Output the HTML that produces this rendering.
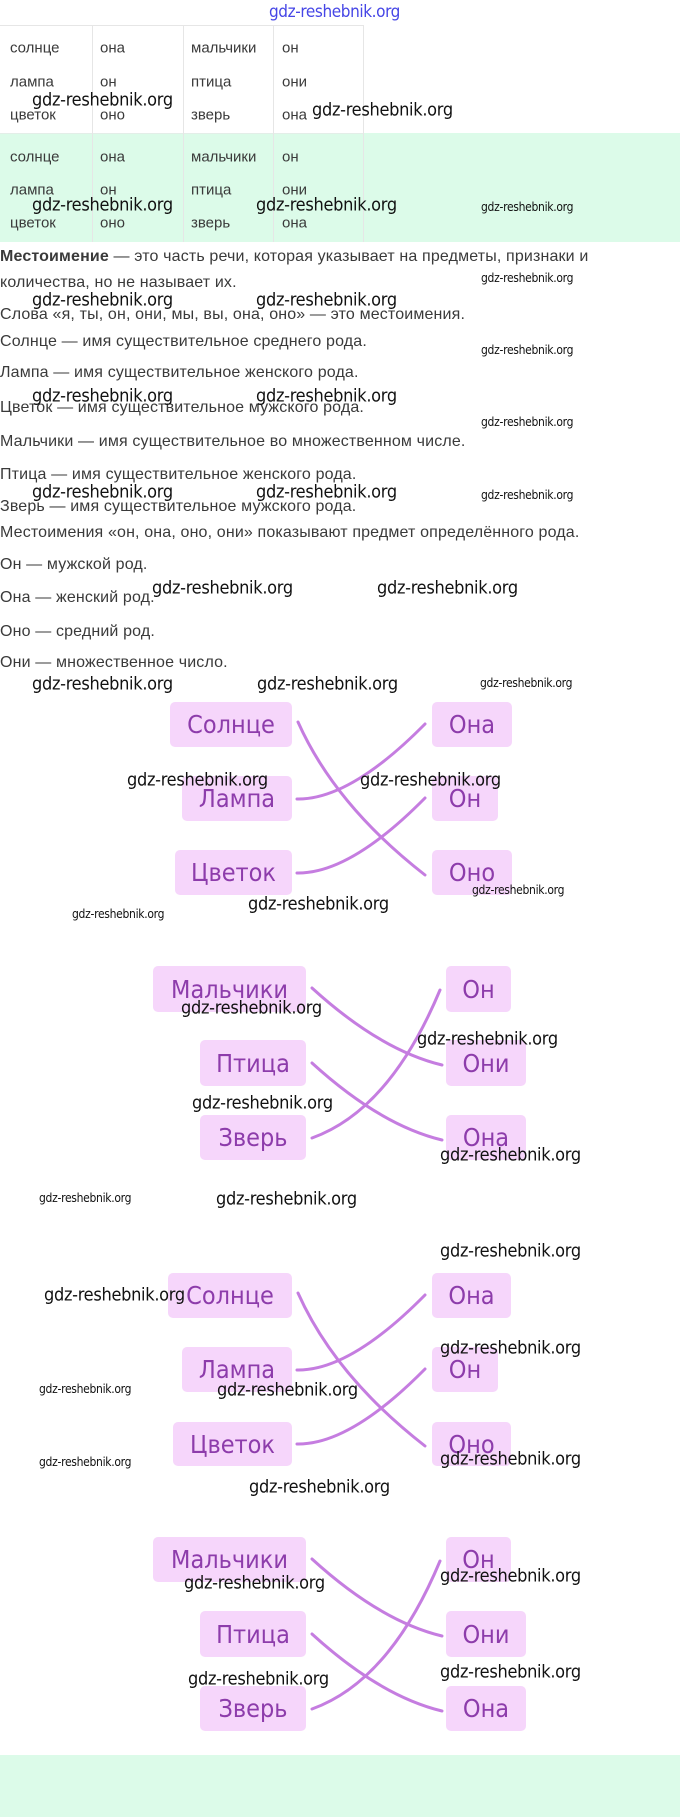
<!DOCTYPE html>
<html><head><meta charset="utf-8">
<style>
body{margin:0;width:680px;height:1817px;position:relative;background:#fff;overflow:hidden;font-family:"Liberation Sans","Noto Sans CJK SC",sans-serif;}
.a{position:absolute;white-space:nowrap;}
.t{font-size:15px;color:#3a3a3a;transform:translateY(-50%);}
.p{font-size:16px;color:#3a3a3a;left:0;transform:translateY(-50%);letter-spacing:0.15px;}
.w{font-size:18px;color:#111;transform:translateY(-50%);font-family:"DejaVu Sans Condensed","Liberation Sans",sans-serif;letter-spacing:-0.3px;}
.s{font-size:12px;color:#111;transform:translateY(-50%);font-family:"DejaVu Sans Condensed","Liberation Sans",sans-serif;letter-spacing:-0.3px;}
.b{position:absolute;background:#f6d6fb;border-radius:5px;color:#8d3cab;font-size:25px;font-family:"DejaVu Sans Condensed","Liberation Sans",sans-serif;display:flex;align-items:center;justify-content:center;}
.v{position:absolute;width:1px;background:#e6e6e6;}
</style></head><body>
<div class="a" style="left:269px;top:2px;font-size:17px;color:#4646e6;font-family:'DejaVu Sans Condensed',sans-serif;letter-spacing:-0.4px;">gdz-reshebnik.org</div>

<div style="position:absolute;left:0;top:133px;width:680px;height:109px;background:#dcfbe9;"></div>
<div style="position:absolute;left:0;top:25px;width:364px;height:1px;background:#e6e6e6;"></div>
<div style="position:absolute;left:0;top:133px;width:364px;height:1px;background:#e3eee8;"></div>
<div class="v" style="left:92px;top:25px;height:217px;"></div>
<div class="v" style="left:183px;top:25px;height:217px;"></div>
<div class="v" style="left:273px;top:25px;height:217px;"></div>
<div class="v" style="left:363px;top:25px;height:217px;"></div>

<div class="a t" style="left:10px;top:48px">солнце</div><div class="a t" style="left:100px;top:48px">она</div><div class="a t" style="left:191px;top:48px">мальчики</div><div class="a t" style="left:282px;top:48px">он</div>
<div class="a t" style="left:10px;top:82px">лампа</div><div class="a t" style="left:100px;top:82px">он</div><div class="a t" style="left:191px;top:82px">птица</div><div class="a t" style="left:282px;top:82px">они</div>
<div class="a t" style="left:10px;top:115px">цветок</div><div class="a t" style="left:100px;top:115px">оно</div><div class="a t" style="left:191px;top:115px">зверь</div><div class="a t" style="left:282px;top:115px">она</div>
<div class="a t" style="left:10px;top:157px">солнце</div><div class="a t" style="left:100px;top:157px">она</div><div class="a t" style="left:191px;top:157px">мальчики</div><div class="a t" style="left:282px;top:157px">он</div>
<div class="a t" style="left:10px;top:190px">лампа</div><div class="a t" style="left:100px;top:190px">он</div><div class="a t" style="left:191px;top:190px">птица</div><div class="a t" style="left:282px;top:190px">они</div>
<div class="a t" style="left:10px;top:223px">цветок</div><div class="a t" style="left:100px;top:223px">оно</div><div class="a t" style="left:191px;top:223px">зверь</div><div class="a t" style="left:282px;top:223px">она</div>

<div class="a p" style="top:257px"><b>Местоимение</b> — это часть речи, которая указывает на предметы, признаки и</div>
<div class="a p" style="top:283px">количества, но не называет их.</div>
<div class="a p" style="top:315px">Слова «я, ты, он, они, мы, вы, она, оно» — это местоимения.</div>
<div class="a p" style="top:342px">Солнце — имя существительное среднего рода.</div>
<div class="a p" style="top:373px">Лампа — имя существительное женского рода.</div>
<div class="a p" style="top:408px">Цветок — имя существительное мужского рода.</div>
<div class="a p" style="top:442px">Мальчики — имя существительное во множественном числе.</div>
<div class="a p" style="top:475px">Птица — имя существительное женского рода.</div>
<div class="a p" style="top:507px">Зверь — имя существительное мужского рода.</div>
<div class="a p" style="top:533px">Местоимения «он, она, оно, они» показывают предмет определённого рода.</div>
<div class="a p" style="top:565px">Он — мужской род.</div>
<div class="a p" style="top:598px">Она — женский род.</div>
<div class="a p" style="top:632px">Оно — средний род.</div>
<div class="a p" style="top:663px">Они — множественное число.</div>

<svg style="position:absolute;left:0;top:0" width="680" height="1817">
<g fill="none" stroke="#c57de0" stroke-width="3" stroke-linecap="round">
<path d="M298,722 Q335,805 425,875"/><path d="M297,799 Q350,800 425,724"/><path d="M297,873 Q350,874 425,798"/>
<path d="M312,988 Q380,1050 442,1065"/><path d="M312,1063 Q380,1125 442,1140"/><path d="M312,1138 Q390,1110 440,990"/>
<path d="M298,1293 Q335,1376 425,1446"/><path d="M297,1370 Q350,1371 425,1295"/><path d="M297,1444 Q350,1445 425,1369"/>
<path d="M312,1559 Q380,1621 442,1636"/><path d="M312,1634 Q380,1696 442,1711"/><path d="M312,1709 Q390,1681 440,1561"/>
</g></svg>

<div class="b" style="left:170px;top:702px;width:122px;height:45px">Солнце</div>
<div class="b" style="left:182px;top:776px;width:110px;height:45px">Лампа</div>
<div class="b" style="left:175px;top:850px;width:117px;height:45px">Цветок</div>
<div class="b" style="left:432px;top:702px;width:80px;height:45px">Она</div>
<div class="b" style="left:432px;top:776px;width:66px;height:45px">Он</div>
<div class="b" style="left:432px;top:850px;width:80px;height:45px">Оно</div>

<div class="b" style="left:153px;top:966px;width:153px;height:46px">Мальчики</div>
<div class="b" style="left:200px;top:1040px;width:106px;height:46px">Птица</div>
<div class="b" style="left:200px;top:1115px;width:106px;height:45px">Зверь</div>
<div class="b" style="left:446px;top:966px;width:65px;height:46px">Он</div>
<div class="b" style="left:446px;top:1040px;width:80px;height:46px">Они</div>
<div class="b" style="left:446px;top:1115px;width:80px;height:45px">Она</div>

<div class="b" style="left:168px;top:1273px;width:124px;height:45px">Солнце</div>
<div class="b" style="left:182px;top:1347px;width:110px;height:45px">Лампа</div>
<div class="b" style="left:173px;top:1422px;width:119px;height:44px">Цветок</div>
<div class="b" style="left:432px;top:1273px;width:79px;height:45px">Она</div>
<div class="b" style="left:432px;top:1347px;width:66px;height:45px">Он</div>
<div class="b" style="left:432px;top:1422px;width:79px;height:44px">Оно</div>

<div class="b" style="left:153px;top:1537px;width:153px;height:45px">Мальчики</div>
<div class="b" style="left:200px;top:1611px;width:106px;height:46px">Птица</div>
<div class="b" style="left:200px;top:1686px;width:106px;height:45px">Зверь</div>
<div class="b" style="left:446px;top:1537px;width:65px;height:45px">Он</div>
<div class="b" style="left:446px;top:1611px;width:80px;height:46px">Они</div>
<div class="b" style="left:446px;top:1686px;width:80px;height:45px">Она</div>

<div style="position:absolute;left:0;top:1755px;width:680px;height:62px;background:#dcfbe9;"></div>

<div class="a w" style="left:32px;top:100px">gdz-reshebnik.org</div>
<div class="a w" style="left:312px;top:110px">gdz-reshebnik.org</div>
<div class="a w" style="left:32px;top:205px">gdz-reshebnik.org</div>
<div class="a w" style="left:256px;top:205px">gdz-reshebnik.org</div>
<div class="a s" style="left:481px;top:207px">gdz-reshebnik.org</div>
<div class="a s" style="left:481px;top:278px">gdz-reshebnik.org</div>
<div class="a w" style="left:32px;top:300px">gdz-reshebnik.org</div>
<div class="a w" style="left:256px;top:300px">gdz-reshebnik.org</div>
<div class="a s" style="left:481px;top:350px">gdz-reshebnik.org</div>
<div class="a w" style="left:32px;top:396px">gdz-reshebnik.org</div>
<div class="a w" style="left:256px;top:396px">gdz-reshebnik.org</div>
<div class="a s" style="left:481px;top:422px">gdz-reshebnik.org</div>
<div class="a w" style="left:32px;top:492px">gdz-reshebnik.org</div>
<div class="a w" style="left:256px;top:492px">gdz-reshebnik.org</div>
<div class="a s" style="left:481px;top:495px">gdz-reshebnik.org</div>
<div class="a w" style="left:152px;top:588px">gdz-reshebnik.org</div>
<div class="a w" style="left:377px;top:588px">gdz-reshebnik.org</div>
<div class="a w" style="left:32px;top:684px">gdz-reshebnik.org</div>
<div class="a w" style="left:257px;top:684px">gdz-reshebnik.org</div>
<div class="a s" style="left:480px;top:683px">gdz-reshebnik.org</div>
<div class="a w" style="left:127px;top:780px">gdz-reshebnik.org</div>
<div class="a w" style="left:360px;top:780px">gdz-reshebnik.org</div>
<div class="a s" style="left:472px;top:890px">gdz-reshebnik.org</div>
<div class="a w" style="left:248px;top:904px">gdz-reshebnik.org</div>
<div class="a s" style="left:72px;top:914px">gdz-reshebnik.org</div>
<div class="a w" style="left:181px;top:1008px">gdz-reshebnik.org</div>
<div class="a w" style="left:417px;top:1039px">gdz-reshebnik.org</div>
<div class="a w" style="left:192px;top:1103px">gdz-reshebnik.org</div>
<div class="a w" style="left:440px;top:1155px">gdz-reshebnik.org</div>
<div class="a s" style="left:39px;top:1198px">gdz-reshebnik.org</div>
<div class="a w" style="left:216px;top:1199px">gdz-reshebnik.org</div>
<div class="a w" style="left:440px;top:1251px">gdz-reshebnik.org</div>
<div class="a w" style="left:44px;top:1295px">gdz-reshebnik.org</div>
<div class="a w" style="left:440px;top:1348px">gdz-reshebnik.org</div>
<div class="a s" style="left:39px;top:1389px">gdz-reshebnik.org</div>
<div class="a w" style="left:217px;top:1390px">gdz-reshebnik.org</div>
<div class="a s" style="left:39px;top:1462px">gdz-reshebnik.org</div>
<div class="a w" style="left:440px;top:1459px">gdz-reshebnik.org</div>
<div class="a w" style="left:249px;top:1487px">gdz-reshebnik.org</div>
<div class="a w" style="left:184px;top:1583px">gdz-reshebnik.org</div>
<div class="a w" style="left:440px;top:1576px">gdz-reshebnik.org</div>
<div class="a w" style="left:188px;top:1679px">gdz-reshebnik.org</div>
<div class="a w" style="left:440px;top:1672px">gdz-reshebnik.org</div>
</body></html>
